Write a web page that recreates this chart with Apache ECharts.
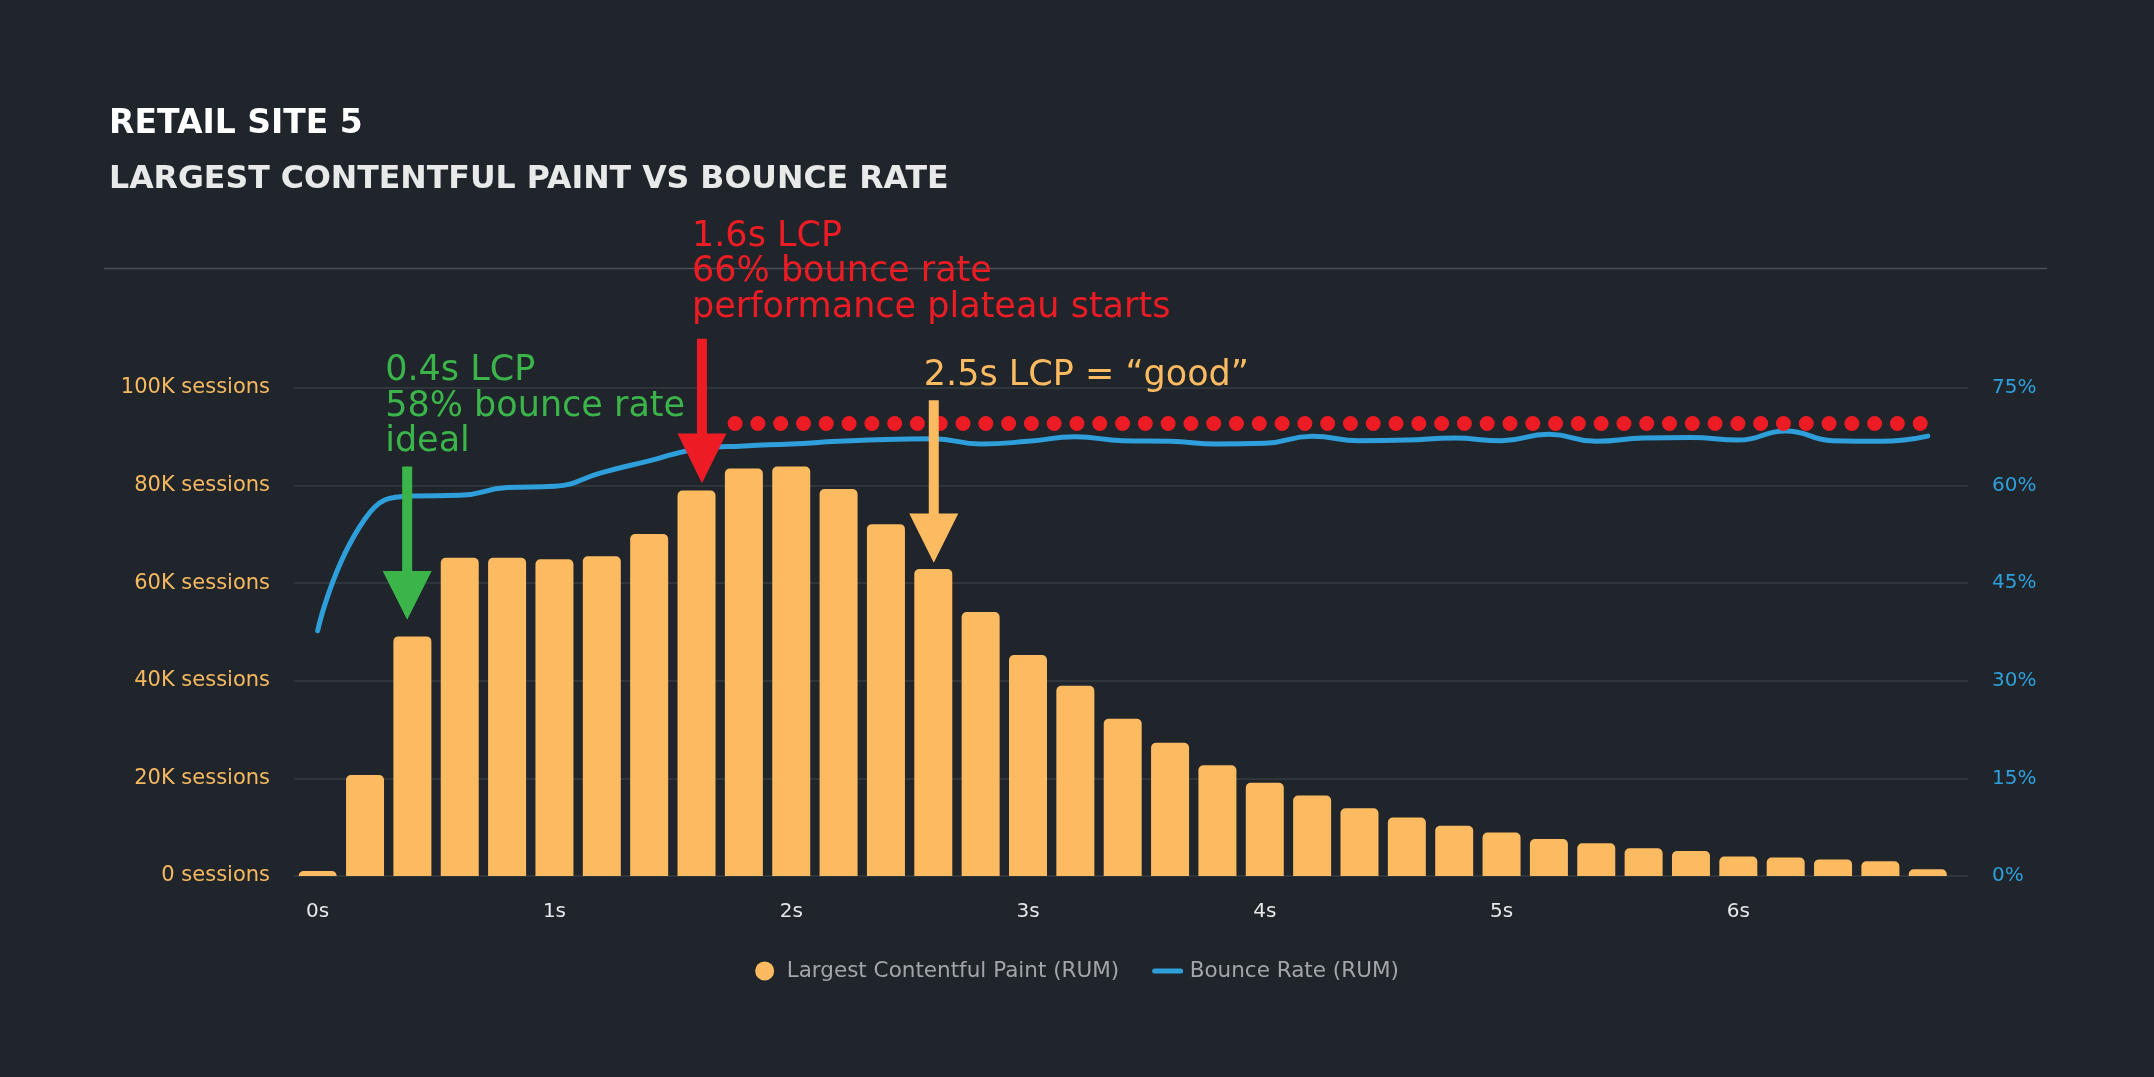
<!DOCTYPE html>
<html>
<head>
<meta charset="utf-8">
<title>Retail site 5 - LCP vs bounce rate</title>
<script src="https://cdn.jsdelivr.net/npm/echarts@6/dist/echarts.min.js"></script>
<style>
  html, body { margin: 0; padding: 0; background: #1f252b; }
  #chart { width: 2154px; height: 1077px; }
</style>
</head>
<body>
<div id="chart"></div>
<script>
// LCP buckets in seconds, one bar each
var lcpSeconds = [0, 0.2, 0.4, 0.6, 0.8, 1.0, 1.2, 1.4, 1.6, 1.8,
                  2.0, 2.2, 2.4, 2.6, 2.8, 3.0, 3.2, 3.4, 3.6, 3.8,
                  4.0, 4.2, 4.4, 4.6, 4.8, 5.0, 5.2, 5.4, 5.6, 5.8,
                  6.0, 6.2, 6.4, 6.6, 6.8];
// sessions per bucket
var sessions = [1000, 20700, 49100, 65200, 65200, 64900, 65500, 70100, 79000, 83500,
                83900, 79300, 72100, 62900, 54100, 45300, 39000, 32200, 27300, 22700,
                19100, 16500, 13900, 12000, 10300, 8900, 7600, 6700, 5700, 5100,
                4000, 3800, 3400, 3000, 1400];
// bounce rate %, per bucket
var bounceRate = [37.7, 54.9, 58.4, 58.5, 59.7, 59.9, 62.0, 63.8, 65.6, 66.1,
                  66.4, 66.8, 67.1, 67.2, 66.4, 66.8, 67.5, 66.9, 66.8, 66.4,
                  66.5, 67.6, 66.9, 67.0, 67.3, 66.9, 67.9, 66.8, 67.3, 67.4,
                  67.0, 68.4, 66.9, 66.8, 67.6];
var secondTicks = [0, 1, 2, 3, 4, 5, 6];

// plateau marker (dotted red line)
var plateau = { from: 1.763, to: 6.776, rate: 69.6 };

// arrows: x in seconds, heights in sessions
var notes = [
    { x: 0.378, top: 83900, headTop: 62500, tip: 52500, color: "#3bb54a",
      lines: ["0.4s LCP", "58% bounce rate", "ideal"], dx: -22, dy: -86, lh: 35.8 },
    { x: 1.623, top: 110100, headTop: 90700, tip: 80500, color: "#ed1c24",
      lines: ["1.6s LCP", "66% bounce rate", "performance plateau starts"], dx: -10, dy: -92, lh: 35.4 },
    { x: 2.602, top: 97500, headTop: 74300, tip: 64200, color: "#fdbb61",
      lines: ["2.5s LCP = \u201cgood\u201d"], dx: -10, dy: -14, lh: 35 }
];

var FONT = "DejaVu Sans";
var NOTE_SIZE = 35;
var chart = echarts.init(document.getElementById("chart"));

function secLabel(v) {
    var r = Math.round(v * 10);
    if (Math.abs(v * 10 - r) > 1e-6 || r % 10 != 0) return "";
    return secondTicks.indexOf(r / 10) >= 0 ? (r / 10) + "s" : "";
}

var option = {
    backgroundColor: "#1f252b",
    animation: false,
    textStyle: { fontFamily: FONT },
    title: [
        { text: "RETAIL SITE 5", left: 104, top: 103,
          textStyle: { color: "#ffffff", fontSize: 33, fontWeight: "bold", fontFamily: FONT } },
        { text: "LARGEST CONTENTFUL PAINT VS BOUNCE RATE", left: 104, top: 159,
          textStyle: { color: "#e8e9e9", fontSize: 31.6, fontWeight: "bold", fontFamily: FONT } }
    ],
    legend: {
        left: "center",
        top: 955,
        itemWidth: 26,
        itemHeight: 19,
        itemGap: 33,
        textStyle: { color: "#a2a6aa", fontSize: 21.5, fontFamily: FONT, padding: [0, 0, 0, 4] },
        data: [
            { name: "Largest Contentful Paint (RUM)", icon: "circle" },
            { name: "Bounce Rate (RUM)", itemStyle: { opacity: 0 },
              lineStyle: { color: "#2e9fda", width: 5, cap: "round" } }
        ]
    },
    grid: { left: 294, right: 186, top: 388, bottom: 201 },
    xAxis: {
        type: "value",
        min: -0.1,
        max: 6.97,
        interval: 0.1,
        axisLine: { show: false },
        axisTick: { show: false },
        splitLine: { show: false },
        axisLabel: { color: "#e6e7e8", fontSize: 20, margin: 26, formatter: secLabel }
    },
    yAxis: [
        {
            type: "value", min: 0, max: 100000, interval: 20000, position: "left",
            axisLine: { show: false }, axisTick: { show: false },
            splitLine: { lineStyle: { color: "#363c42", width: 1.5 } },
            axisLabel: {
                color: "#f7b960", fontSize: 21, margin: 24,
                formatter: function (v) { return v == 0 ? "0 sessions" : (v / 1000) + "K sessions"; }
            }
        },
        {
            type: "value", min: 0, max: 75, interval: 15, position: "right",
            axisLine: { show: false }, axisTick: { show: false },
            splitLine: { show: false },
            axisLabel: { color: "#2e9fda", fontSize: 20, margin: 24, formatter: "{value}%" }
        }
    ],
    series: [
        {
            name: "Largest Contentful Paint (RUM)",
            type: "bar",
            barWidth: 38,
            itemStyle: { color: "#fdbb61", borderRadius: [5, 5, 0, 0] },
            data: lcpSeconds.map(function (s, i) { return [s, sessions[i]]; })
        },
        {
            name: "Bounce Rate (RUM)",
            type: "line",
            yAxisIndex: 1,
            smooth: true,
            symbol: "none",
            itemStyle: { color: "#2e9fda" },
            lineStyle: { color: "#2e9fda", width: 5, cap: "round" },
            data: lcpSeconds.map(function (s, i) { return [s, bounceRate[i]]; }),
            markLine: {
                silent: true,
                symbol: ["none", "none"],
                label: { show: false },
                lineStyle: { color: "#ed1c24", width: 15, type: [0, 22.79], cap: "round", opacity: 1 },
                data: [[{ coord: [plateau.from, plateau.rate] }, { coord: [plateau.to, plateau.rate] }]]
            }
        }
    ]
};
chart.setOption(option);

// annotations, placed through the axes
function drawNotes() {
    var g = [{
        type: "line", silent: true,
        shape: { x1: 104, y1: 268.5, x2: 2047, y2: 268.5 },
        style: { stroke: "#4a5056", lineWidth: 1.5 }
    }];
    notes.forEach(function (n) {
        var p0 = chart.convertToPixel({ xAxisIndex: 0, yAxisIndex: 0 }, [n.x, n.top]);
        var p1 = chart.convertToPixel({ xAxisIndex: 0, yAxisIndex: 0 }, [n.x, n.headTop]);
        var p2 = chart.convertToPixel({ xAxisIndex: 0, yAxisIndex: 0 }, [n.x, n.tip]);
        var x = p0[0], hw = 5, aw = 24.5;
        g.push({
            type: "polygon", silent: true, z: 100,
            shape: { points: [[x - hw, p0[1]], [x + hw, p0[1]], [x + hw, p1[1]], [x + aw, p1[1]],
                              [x, p2[1]], [x - aw, p1[1]], [x - hw, p1[1]]] },
            style: { fill: n.color }
        });
        n.lines.forEach(function (t, i) {
            var base = p0[1] + n.dy + i * n.lh;
            g.push({
                type: "text", silent: true, z: 100,
                style: {
                    text: t, x: x + n.dx, y: base - 0.28 * NOTE_SIZE,
                    fill: n.color, font: NOTE_SIZE + "px " + FONT,
                    align: "left", verticalAlign: "middle"
                }
            });
        });
    });
    chart.setOption({ graphic: g });
}
drawNotes();
</script>
</body>
</html>
